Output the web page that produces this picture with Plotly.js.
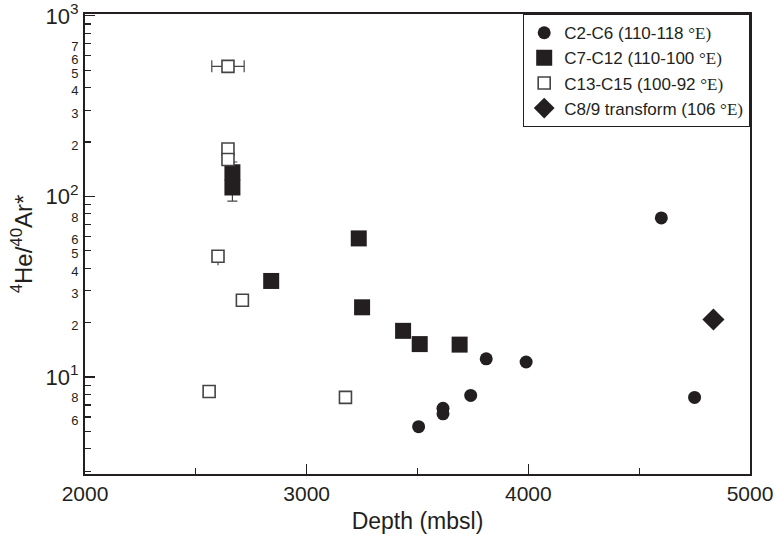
<!DOCTYPE html>
<html>
<head>
<meta charset="utf-8">
<script src="https://cdn.plot.ly/plotly-3.0.1.min.js"></script>
<style>body{margin:0;background:#fff}#chart{width:775px;height:534px}</style>
</head>
<body>
<div id="chart"></div>
<script>
// C2-C6 (110-118 °E)
const c26Depth = [4600, 3810, 3990, 3740, 3615, 3615, 3505, 4750];
const c26Ratio = [76, 12.6, 12.1, 7.9, 6.7, 6.25, 5.3, 7.7];
// C7-C12 (110-100 °E)
const c712Depth = [2665, 2665, 2840, 3235, 3250, 3435, 3510, 3690];
const c712Ratio = [136, 112, 34, 58.5, 24.3, 18, 15.2, 15.1];
const c712ErrY = [19, 18, 0, 0, 0, 0, 0, 0];
// C13-C15 (100-92 °E)
const c1315Depth = [2645, 2645, 2645, 2600, 2710, 2560, 3175];
const c1315Ratio = [525, 183, 160, 46.6, 26.6, 8.3, 7.7];
const c1315ErrX = [73, 0, 0, 0, 0, 0, 0];
const c1315ErrYMinus = [0, 0, 0, 5, 2.2, 0.65, 0];
// C8/9 transform (106 °E)
const c89Depth = [4835];
const c89Ratio = [20.8];

const serif = '<span style="font-family:\'Liberation Serif\',serif">°E)</span>';
const names = [
  'C2-C6 (110-118 ' + serif,
  'C7-C12 (110-100 ' + serif,
  'C13-C15 (100-92 ' + serif,
  'C8/9 transform (106 ' + serif
];

// y tick labels (minor values with small labels)
const yTickVals = [];
const yTickText = [];
const labeled = {1: [8, 6], 2: [8, 6, 5, 4, 3, 2], 3: [7, 6, 5, 4, 3, 2]};
for (let d = 0; d <= 2; d++) {
  const base = Math.pow(10, d);
  for (let m = 2; m <= 9; m++) {
    const v = m * base;
    if (v < 2.9) continue;
    yTickVals.push(v);
    const lab = labeled[d + 1].includes(m) ? '<span style="font-size:13px">' + m + '</span>' : '';
    yTickText.push(lab);
  }
}
const decades = [10, 100, 1000];
const decadeText = ['10<sup>1</sup>', '10<sup>2</sup>', '10<sup>3</sup>'];

const ink = '#231f20';

const traces = [
  {
    x: c26Depth, y: c26Ratio, name: names[0], type: 'scatter', mode: 'markers',
    marker: {symbol: 'circle', size: 13, color: ink}
  },
  {
    x: c712Depth, y: c712Ratio, name: names[1], type: 'scatter', mode: 'markers',
    marker: {symbol: 'square', size: 16, color: ink},
    error_y: {type: 'data', array: c712ErrY, visible: true, color: '#444', thickness: 1.2, width: 5}
  },
  {
    x: c1315Depth, y: c1315Ratio, name: names[2], type: 'scatter', mode: 'markers',
    marker: {symbol: 'square', size: 12, color: '#ffffff', line: {color: '#444', width: 1.6}},
    error_x: {type: 'data', array: c1315ErrX, visible: true, color: '#444', thickness: 1.2, width: 6},
    error_y: {type: 'data', symmetric: false, array: c1315ErrYMinus.map(() => 0), arrayminus: c1315ErrYMinus, visible: true, color: '#444', thickness: 1.2, width: 0}
  },
  {
    x: c89Depth, y: c89Ratio, name: names[3], type: 'scatter', mode: 'markers',
    marker: {symbol: 'diamond', size: 17, color: ink}
  },
  {
    x: [2000], y: [10], xaxis: 'x', yaxis: 'y2', mode: 'markers',
    marker: {opacity: 0}, showlegend: false, hoverinfo: 'skip'
  }
];

const yRange = [Math.log10(2.9), 3.01];

const layout = {
  width: 775, height: 534,
  margin: {l: 85, r: 25, t: 14, b: 60},
  paper_bgcolor: '#ffffff', plot_bgcolor: '#ffffff',
  font: {family: '"Liberation Sans", Arial, sans-serif', color: '#231f20'},
  showlegend: true,
  legend: {
    x: 1, y: 1, xanchor: 'right', yanchor: 'top',
    bordercolor: '#231f20', borderwidth: 1.2, bgcolor: '#ffffff',
    font: {size: 17, family: '"Liberation Sans", Arial, sans-serif', color: '#231f20'},
    itemwidth: 30
  },
  xaxis: {
    range: [2000, 5000], tickmode: 'array', tickvals: [2000, 3000, 4000, 5000],
    ticks: 'inside', ticklen: 10, tickwidth: 1.2, tickcolor: '#231f20',
    showline: true, linecolor: '#231f20', linewidth: 2, mirror: true,
    showgrid: false, zeroline: false,
    tickfont: {size: 21},
    minor: {tickvals: [2500, 3500, 4500], ticks: 'inside', ticklen: 6, tickwidth: 1.2, tickcolor: '#231f20'},
    title: {text: 'Depth (mbsl)', font: {size: 23}, standoff: 14}
  },
  yaxis: {
    type: 'log', range: yRange, tickmode: 'array', tickvals: decades.concat(yTickVals),
    ticktext: decadeText.concat(yTickText),
    ticks: 'inside', ticklen: 6, tickwidth: 1.2, tickcolor: '#231f20',
    showline: true, linecolor: '#231f20', linewidth: 2, mirror: true,
    showgrid: false, zeroline: false,
    tickfont: {size: 22},
    title: {text: '<sup>4</sup>He/<sup>40</sup>Ar*', font: {size: 24}, standoff: 6}
  },
  yaxis2: {
    type: 'log', range: yRange, overlaying: 'y', side: 'left',
    tickmode: 'array', tickvals: decades, ticktext: ['', '', ''],
    ticks: 'inside', ticklen: 10, tickwidth: 1.2, tickcolor: '#231f20',
    showline: false, showgrid: false, zeroline: false
  }
};

Plotly.newPlot('chart', traces, layout, {displayModeBar: false, staticPlot: true});
</script>
</body>
</html>
